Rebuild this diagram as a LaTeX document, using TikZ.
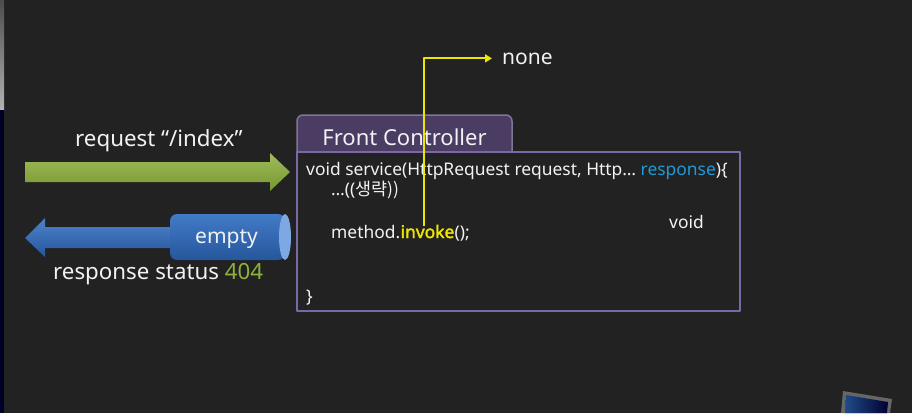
\documentclass[tikz,border=0pt]{standalone}
\usepackage{fontspec}
\setmainfont{Noto Sans}
\newfontfamily\kofont{Noto Sans CJK KR}
\newfontfamily\boldcode{Noto Sans}[FakeBold=2]
\usetikzlibrary{arrows.meta}
\definecolor{bgc}{HTML}{222222}
\definecolor{txtc}{HTML}{F2F2F2}
\definecolor{grn}{HTML}{8DB23C}
\definecolor{blu}{HTML}{2E6CC2}
\definecolor{bluend}{HTML}{7EA8E2}
\definecolor{yel}{HTML}{EDE600}
\definecolor{resp}{HTML}{1E9AD6}
\definecolor{purp}{HTML}{7A69A3}
\definecolor{tabc}{HTML}{4A3C62}
\begin{document}
\begin{tikzpicture}[x=1pt, y=-1pt, line join=round, >={Triangle[length=7pt,width=8pt]},
	txt/.style={text=txtc, inner sep=0pt, anchor=base west},
	code/.style={txt, font=\fontsize{17.4}{20}\selectfont},
	big/.style={txt, font=\fontsize{22.3}{26}\selectfont}]
	%% Khung nền
	\useasboundingbox (0,0) rectangle (912,413);
	\fill[bgc] (0,0) rectangle (912,413);
	\shade[top color=black!70, bottom color=black!30] (0,0) rectangle (4,110);
	\fill[black!85!blue] (0,110) rectangle (4,413);
	%% Mũi tên request
	\shade[top color=grn!85!white, bottom color=grn!85!black]
		(25,162) -- (270,162) -- (270,153) -- (290,172) -- (270,191) -- (270,182) -- (25,182) -- cycle;
	\node[big] (req) at (75,146) {request “/index”};
	%% Mũi tên response
	\shade[top color=blu!85!white, bottom color=blu!80!black]
		(25,238) -- (45,218) -- (45,227) -- (176,227) -- (176,248) -- (45,248) -- (45,257) -- cycle;
	\shade[top color=blu!90!white, bottom color=blu!80!black, rounded corners=7pt]
		(285,214) -- (170,214) -- (170,260) -- (285,260) -- cycle;
	\fill[bluend] (285,237) ellipse [x radius=6, y radius=23];
	\node[big, font=\fontsize{21}{25}\selectfont] (empty) at (195,243) {empty};
	\node[big] (status) at (53,279) {response status \textcolor{grn}{404}};
	%% Front Controller
	\node[fill=tabc, draw=tabc!70!white, line width=1.5pt, rounded corners=6pt,
		minimum width=215, minimum height=44, text=txtc,
		font=\fontsize{22}{26}\selectfont] (fc) at (404.5,137) {Front Controller};
	\node[draw=purp, fill=bgc, line width=2pt, minimum width=443, minimum height=159] (box) at (518.5,231.5) {};
	%% Mã nguồn
	\node[code] (sig) at (306,175) {void service(HttpRequest request, Http… \textcolor{resp}{response})\{};
	\node[code] (skip) at (331,195) {…((\kofont 생략))};
	\node[code] (meth) at (331,238) {method.};
	\node[code, text=yel, font=\fontsize{17.4}{20}\boldcode] (invoke) at (meth.base east) {invoke};
	\node[code] (call) at (invoke.base east) {();};
	\node[code] (void) at (669,228) {void};
	\node[code] (close) at (306,302) {\}};
	%% Mũi tên invoke
	\node[txt, font=\fontsize{21}{25}\selectfont] (none) at (502,64) {none};
	\draw[yel, line width=2pt, ->] ([shift={(24,-12)}]invoke.base west) |- ([xshift=-10pt]none.west);
	%% Góc màn hình
	\fill[black!60] (843,391) -- (892,399) -- (890,413) -- (841,413) -- cycle;
	\shade[left color=blu!70!black, right color=black!80!blue] (846,395) -- (888,402) -- (887,413) -- (845,413) -- cycle;
\end{tikzpicture}
\end{document}
